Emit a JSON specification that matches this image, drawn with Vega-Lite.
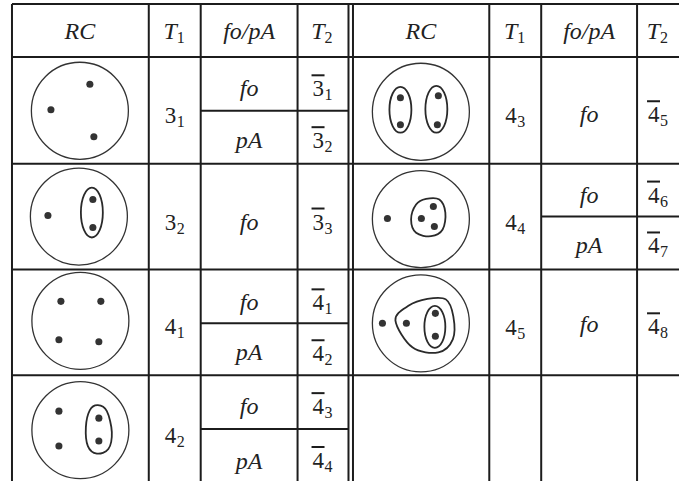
{
  "$schema": "https://vega.github.io/schema/vega-lite/v6.json",
  "width": 680,
  "height": 482,
  "autosize": {"type": "fit", "contains": "padding"},
  "padding": 0,
  "background": "white",
  "config": {"view": {"stroke": null}},
  "datasets": {
    "lines": [
      {"x": 12, "y": 4, "x2": 12, "y2": 482},
      {"x": 149, "y": 4, "x2": 149, "y2": 482},
      {"x": 201, "y": 4, "x2": 201, "y2": 482},
      {"x": 298, "y": 4, "x2": 298, "y2": 482},
      {"x": 349, "y": 4, "x2": 349, "y2": 482},
      {"x": 353.5, "y": 4, "x2": 353.5, "y2": 482},
      {"x": 490, "y": 4, "x2": 490, "y2": 482},
      {"x": 542, "y": 4, "x2": 542, "y2": 482},
      {"x": 638, "y": 4, "x2": 638, "y2": 482},
      {"x": 12, "y": 4, "x2": 680, "y2": 4},
      {"x": 12, "y": 57, "x2": 680, "y2": 57},
      {"x": 12, "y": 164, "x2": 680, "y2": 164},
      {"x": 12, "y": 270, "x2": 680, "y2": 270},
      {"x": 12, "y": 376, "x2": 680, "y2": 376},
      {"x": 201, "y": 111, "x2": 349, "y2": 111},
      {"x": 201, "y": 324, "x2": 349, "y2": 324},
      {"x": 201, "y": 430, "x2": 349, "y2": 430},
      {"x": 542, "y": 217, "x2": 680, "y2": 217}
    ],
    "circles": [
      {"x": 80, "y": 111},
      {"x": 79, "y": 217},
      {"x": 80.5, "y": 321.5},
      {"x": 80.5, "y": 431},
      {"x": 421.5, "y": 112},
      {"x": 421.5, "y": 219.5},
      {"x": 421.5, "y": 324}
    ],
    "dots": [
      {"x": 90, "y": 84.5}, {"x": 51, "y": 110}, {"x": 94, "y": 137},
      {"x": 48, "y": 216}, {"x": 93, "y": 200}, {"x": 93, "y": 228},
      {"x": 61, "y": 302}, {"x": 101, "y": 302}, {"x": 59, "y": 340.5}, {"x": 99, "y": 342.5},
      {"x": 59, "y": 412}, {"x": 59, "y": 447}, {"x": 99, "y": 419}, {"x": 99, "y": 442},
      {"x": 401, "y": 98}, {"x": 401, "y": 125}, {"x": 439, "y": 96}, {"x": 438, "y": 125},
      {"x": 388, "y": 219}, {"x": 434, "y": 207}, {"x": 422, "y": 219}, {"x": 435, "y": 227},
      {"x": 383, "y": 324}, {"x": 407, "y": 324}, {"x": 436, "y": 314}, {"x": 436, "y": 337}
    ],
    "loops": [
      {"loop": "a", "i": 0, "x": 103, "y": 213}, {"loop": "a", "i": 1, "x": 99.8, "y": 230.7},
      {"loop": "a", "i": 2, "x": 92, "y": 238}, {"loop": "a", "i": 3, "x": 84.2, "y": 230.7},
      {"loop": "a", "i": 4, "x": 81, "y": 213}, {"loop": "a", "i": 5, "x": 84.2, "y": 195.3},
      {"loop": "a", "i": 6, "x": 92, "y": 188}, {"loop": "a", "i": 7, "x": 99.8, "y": 195.3},
      {"loop": "b", "i": 0, "x": 98, "y": 406}, {"loop": "b", "i": 1, "x": 107, "y": 412},
      {"loop": "b", "i": 2, "x": 112, "y": 433}, {"loop": "b", "i": 3, "x": 108.5, "y": 450},
      {"loop": "b", "i": 4, "x": 97, "y": 454.5}, {"loop": "b", "i": 5, "x": 88, "y": 447},
      {"loop": "b", "i": 6, "x": 86, "y": 428}, {"loop": "b", "i": 7, "x": 90, "y": 411},
      {"loop": "c", "i": 0, "x": 412, "y": 110}, {"loop": "c", "i": 1, "x": 408.8, "y": 126.3},
      {"loop": "c", "i": 2, "x": 401, "y": 133}, {"loop": "c", "i": 3, "x": 393.2, "y": 126.3},
      {"loop": "c", "i": 4, "x": 390, "y": 110}, {"loop": "c", "i": 5, "x": 393.2, "y": 93.7},
      {"loop": "c", "i": 6, "x": 401, "y": 87}, {"loop": "c", "i": 7, "x": 408.8, "y": 93.7},
      {"loop": "d", "i": 0, "x": 448, "y": 109.5}, {"loop": "d", "i": 1, "x": 444.8, "y": 126.1},
      {"loop": "d", "i": 2, "x": 437, "y": 133}, {"loop": "d", "i": 3, "x": 429.2, "y": 126.1},
      {"loop": "d", "i": 4, "x": 426, "y": 109.5}, {"loop": "d", "i": 5, "x": 429.2, "y": 92.9},
      {"loop": "d", "i": 6, "x": 437, "y": 86}, {"loop": "d", "i": 7, "x": 444.8, "y": 92.9},
      {"loop": "e", "i": 0, "x": 411.7, "y": 220}, {"loop": "e", "i": 1, "x": 416.7, "y": 205},
      {"loop": "e", "i": 2, "x": 426.7, "y": 199.3}, {"loop": "e", "i": 3, "x": 440, "y": 200},
      {"loop": "e", "i": 4, "x": 446, "y": 213}, {"loop": "e", "i": 5, "x": 443.3, "y": 230},
      {"loop": "e", "i": 6, "x": 431.7, "y": 236.7}, {"loop": "e", "i": 7, "x": 416.7, "y": 233.3},
      {"loop": "f", "i": 0, "x": 396, "y": 321}, {"loop": "f", "i": 1, "x": 409, "y": 306.5},
      {"loop": "f", "i": 2, "x": 428, "y": 299.5}, {"loop": "f", "i": 3, "x": 446.5, "y": 300},
      {"loop": "f", "i": 4, "x": 454, "y": 317}, {"loop": "f", "i": 5, "x": 453.5, "y": 340},
      {"loop": "f", "i": 6, "x": 439, "y": 353}, {"loop": "f", "i": 7, "x": 413, "y": 348},
      {"loop": "g", "i": 0, "x": 446, "y": 327.5}, {"loop": "g", "i": 1, "x": 443, "y": 342.3},
      {"loop": "g", "i": 2, "x": 435.5, "y": 348.5}, {"loop": "g", "i": 3, "x": 428, "y": 342.3},
      {"loop": "g", "i": 4, "x": 425, "y": 327.5}, {"loop": "g", "i": 5, "x": 428, "y": 312.7},
      {"loop": "g", "i": 6, "x": 435.5, "y": 306.5}, {"loop": "g", "i": 7, "x": 443, "y": 312.7}
    ],
    "words": [
      {"x": 80, "y": 39, "text": "RC"},
      {"x": 249.5, "y": 39, "text": "fo/pA"},
      {"x": 421.5, "y": 39, "text": "RC"},
      {"x": 590, "y": 39, "text": "fo/pA"},
      {"x": 249.5, "y": 96.5, "text": "fo"},
      {"x": 249.5, "y": 148, "text": "pA"},
      {"x": 249.5, "y": 230, "text": "fo"},
      {"x": 249.5, "y": 311, "text": "fo"},
      {"x": 249.5, "y": 361, "text": "pA"},
      {"x": 249.5, "y": 415, "text": "fo"},
      {"x": 249.5, "y": 469.5, "text": "pA"},
      {"x": 590, "y": 122, "text": "fo"},
      {"x": 590, "y": 203, "text": "fo"},
      {"x": 590, "y": 254, "text": "pA"},
      {"x": 590, "y": 333, "text": "fo"}
    ],
    "indexed": [
      {"x": 175, "y": 39, "kind": "T", "base": "T", "sub": "1"},
      {"x": 323, "y": 39, "kind": "T", "base": "T", "sub": "2"},
      {"x": 516, "y": 39, "kind": "T", "base": "T", "sub": "1"},
      {"x": 659, "y": 39, "kind": "T", "base": "T", "sub": "2"},
      {"x": 175, "y": 123, "kind": "num", "base": "3", "sub": "1"},
      {"x": 175, "y": 230, "kind": "num", "base": "3", "sub": "2"},
      {"x": 175, "y": 335, "kind": "num", "base": "4", "sub": "1"},
      {"x": 175, "y": 443.5, "kind": "num", "base": "4", "sub": "2"},
      {"x": 516, "y": 123, "kind": "num", "base": "4", "sub": "3"},
      {"x": 516, "y": 230, "kind": "num", "base": "4", "sub": "4"},
      {"x": 516, "y": 336, "kind": "num", "base": "4", "sub": "5"},
      {"x": 323, "y": 96.5, "kind": "bar", "base": "3", "sub": "1"},
      {"x": 323, "y": 148.5, "kind": "bar", "base": "3", "sub": "2"},
      {"x": 323, "y": 230, "kind": "bar", "base": "3", "sub": "3"},
      {"x": 323, "y": 311, "kind": "bar", "base": "4", "sub": "1"},
      {"x": 323, "y": 362, "kind": "bar", "base": "4", "sub": "2"},
      {"x": 323, "y": 415, "kind": "bar", "base": "4", "sub": "3"},
      {"x": 323, "y": 469, "kind": "bar", "base": "4", "sub": "4"},
      {"x": 659, "y": 122.5, "kind": "bar", "base": "4", "sub": "5"},
      {"x": 659, "y": 203, "kind": "bar", "base": "4", "sub": "6"},
      {"x": 659, "y": 254, "kind": "bar", "base": "4", "sub": "7"},
      {"x": 659, "y": 335, "kind": "bar", "base": "4", "sub": "8"}
    ]
  },
  "layer": [
    {
      "data": {"name": "lines"},
      "mark": {"type": "rule", "color": "#1c1c1c", "strokeWidth": 2},
      "encoding": {
        "x": {"field": "x", "type": "quantitative", "scale": {"domain": [0, 680], "nice": false, "zero": false}, "axis": null},
        "y": {"field": "y", "type": "quantitative", "scale": {"domain": [0, 482], "nice": false, "zero": false, "reverse": true}, "axis": null},
        "x2": {"field": "x2"},
        "y2": {"field": "y2"}
      }
    },
    {
      "data": {"name": "circles"},
      "mark": {"type": "point", "shape": "circle", "filled": false, "size": 9409, "stroke": "#333333", "strokeWidth": 1.3, "opacity": 1},
      "encoding": {
        "x": {"field": "x", "type": "quantitative", "axis": null},
        "y": {"field": "y", "type": "quantitative", "axis": null}
      }
    },
    {
      "data": {"name": "loops"},
      "mark": {"type": "line", "interpolate": "cardinal-closed", "color": "#2a2a2a", "strokeWidth": 1.8},
      "encoding": {
        "x": {"field": "x", "type": "quantitative", "axis": null},
        "y": {"field": "y", "type": "quantitative", "axis": null},
        "detail": {"field": "loop"},
        "order": {"field": "i", "type": "quantitative"}
      }
    },
    {
      "data": {"name": "dots"},
      "mark": {"type": "point", "shape": "circle", "filled": true, "size": 50, "color": "#333333", "opacity": 1},
      "encoding": {
        "x": {"field": "x", "type": "quantitative", "axis": null},
        "y": {"field": "y", "type": "quantitative", "axis": null}
      }
    },
    {
      "data": {"name": "words"},
      "mark": {"type": "text", "font": "Liberation Serif", "fontStyle": "italic", "fontSize": 24, "align": "center", "baseline": "alphabetic", "color": "#222222"},
      "encoding": {
        "x": {"field": "x", "type": "quantitative", "axis": null},
        "y": {"field": "y", "type": "quantitative", "axis": null},
        "text": {"field": "text"}
      }
    },
    {
      "data": {"name": "indexed"},
      "transform": [{"filter": "datum.kind === 'T'"}],
      "mark": {"type": "text", "font": "Liberation Serif", "fontStyle": "italic", "fontSize": 24, "align": "right", "baseline": "alphabetic", "dx": 2, "color": "#222222"},
      "encoding": {
        "x": {"field": "x", "type": "quantitative", "axis": null},
        "y": {"field": "y", "type": "quantitative", "axis": null},
        "text": {"field": "base"}
      }
    },
    {
      "data": {"name": "indexed"},
      "transform": [{"filter": "datum.kind !== 'T'"}],
      "mark": {"type": "text", "font": "Liberation Serif", "fontSize": 23, "align": "right", "baseline": "alphabetic", "dx": 1.5, "color": "#222222"},
      "encoding": {
        "x": {"field": "x", "type": "quantitative", "axis": null},
        "y": {"field": "y", "type": "quantitative", "axis": null},
        "text": {"field": "base"}
      }
    },
    {
      "data": {"name": "indexed"},
      "mark": {"type": "text", "font": "Liberation Serif", "fontSize": 16, "align": "left", "baseline": "alphabetic", "dx": 2, "dy": 4, "color": "#222222"},
      "encoding": {
        "x": {"field": "x", "type": "quantitative", "axis": null},
        "y": {"field": "y", "type": "quantitative", "axis": null},
        "text": {"field": "sub"}
      }
    },
    {
      "data": {"name": "indexed"},
      "transform": [{"filter": "datum.kind === 'bar'"}],
      "mark": {"type": "point", "shape": "M-1,0L1,0", "filled": false, "size": 169, "stroke": "#1c1c1c", "strokeWidth": 2, "xOffset": -4.5, "yOffset": -21, "opacity": 1},
      "encoding": {
        "x": {"field": "x", "type": "quantitative", "axis": null},
        "y": {"field": "y", "type": "quantitative", "axis": null}
      }
    }
  ]
}
